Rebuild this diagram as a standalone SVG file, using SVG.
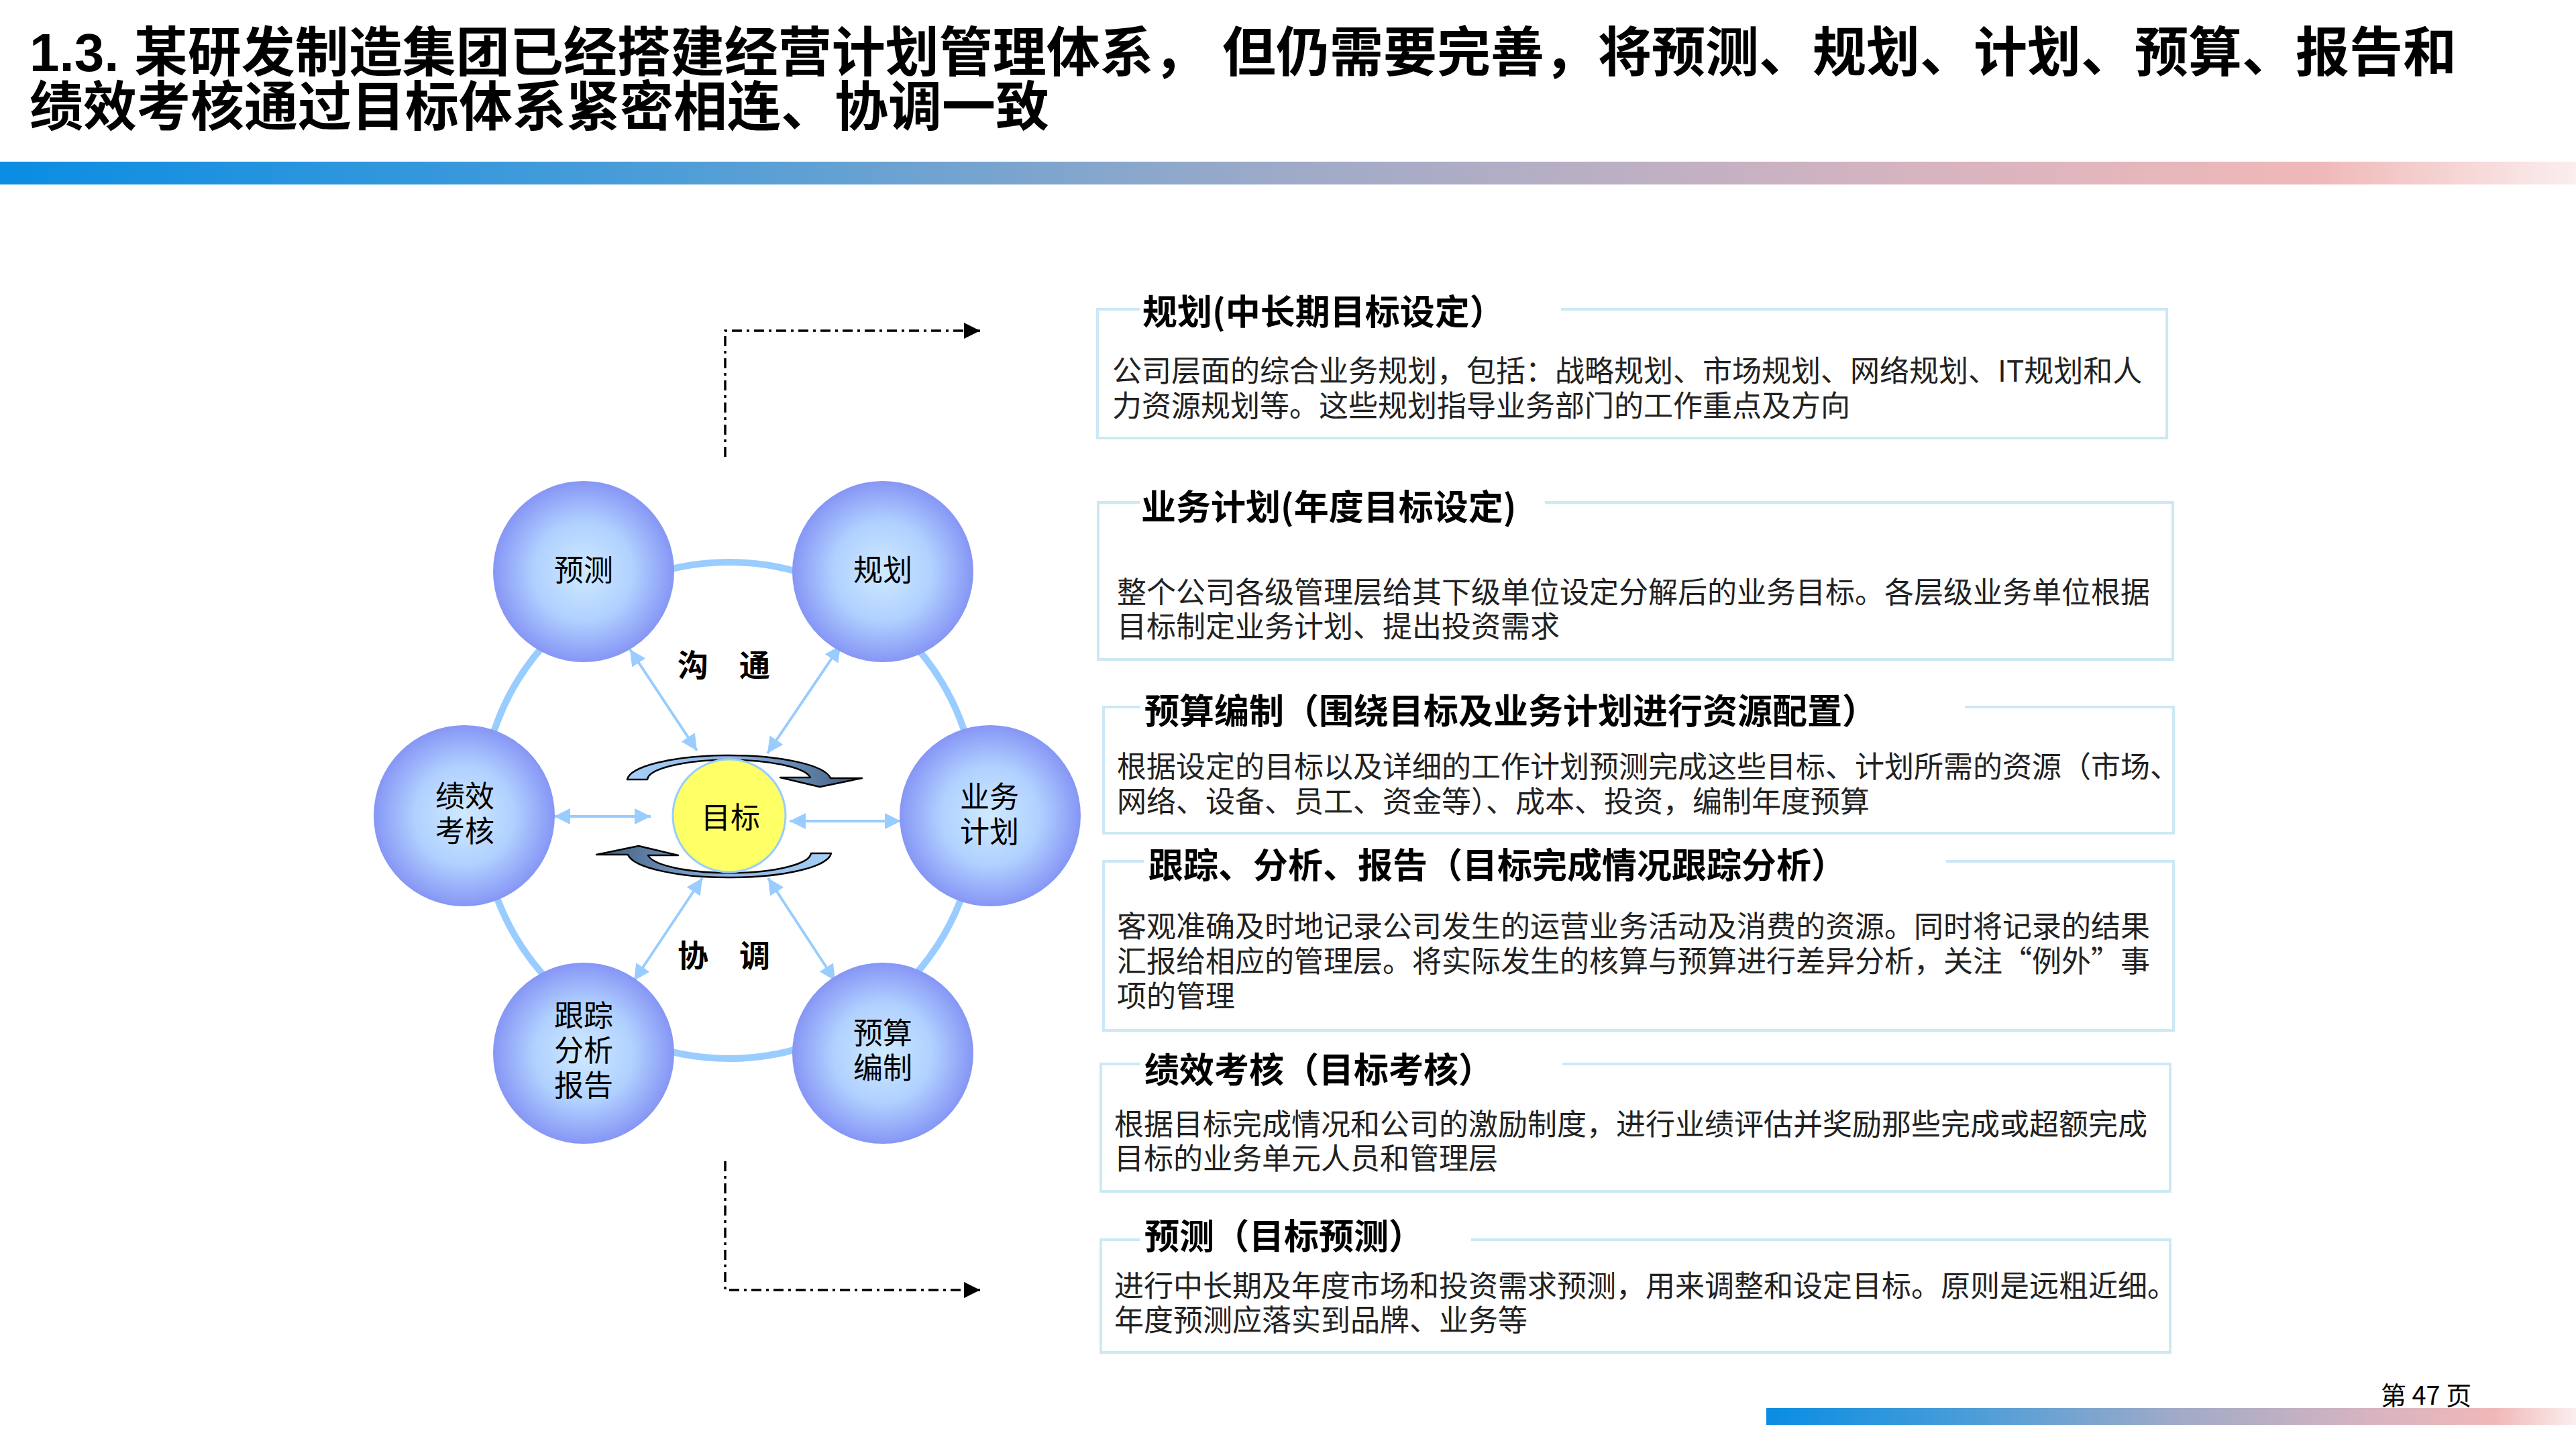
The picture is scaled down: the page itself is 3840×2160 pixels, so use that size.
<svg xmlns="http://www.w3.org/2000/svg" width="3840" height="2160" viewBox="0 0 3840 2160">
<defs>
<style>
.t{font-family:"Liberation Sans","Noto Sans CJK SC",sans-serif;font-weight:bold;font-size:80px;fill:#000}
.nl{font-family:"Noto Sans CJK SC",sans-serif;font-size:44px;fill:#000;text-anchor:middle}
.cl{font-family:"Noto Sans CJK SC",sans-serif;font-size:46px;font-weight:bold;fill:#000}
.bt{font-family:"Noto Sans CJK SC",sans-serif;font-size:52px;font-weight:bold;fill:#000}
.bd{font-family:"Noto Sans CJK SC",sans-serif;font-size:44px;fill:#222}
.box{fill:none;stroke:#cde8f5;stroke-width:4}
.ring{fill:none;stroke:#99ccff;stroke-width:10}
.ba{fill:none;stroke:#99ccff;stroke-width:4;marker-start:url(#ab);marker-end:url(#ab)}
.dd{fill:none;stroke:#000;stroke-width:3.5;stroke-dasharray:15 7 4 7;marker-end:url(#ak)}
.cv{fill:url(#cvg);stroke:#000;stroke-width:2.5;stroke-linejoin:round}
.bub{fill:url(#bub)}
</style>
<linearGradient id="bar" x1="0" y1="0" x2="1" y2="0">
<stop offset="0" stop-color="#0a8de3"/>
<stop offset="0.25" stop-color="#4a9dd8"/>
<stop offset="0.5" stop-color="#9eaac8"/>
<stop offset="0.75" stop-color="#d8b4c0"/>
<stop offset="0.9" stop-color="#f0b8b8"/>
<stop offset="1" stop-color="#fbeeee"/>
</linearGradient>
<radialGradient id="bub" cx="0.5" cy="0.5" r="0.5">
<stop offset="0" stop-color="#cfeaff"/>
<stop offset="0.55" stop-color="#b0d0ff"/>
<stop offset="1" stop-color="#8696f5"/>
</radialGradient>
<linearGradient id="cvg" x1="0" y1="0" x2="1" y2="0">
<stop offset="0" stop-color="#a6d0f7"/>
<stop offset="0.45" stop-color="#8fb4e0"/>
<stop offset="1" stop-color="#3d5a7c"/>
</linearGradient>
<marker id="ab" viewBox="0 0 24 24" refX="24" refY="12" markerWidth="24" markerHeight="24" markerUnits="userSpaceOnUse" orient="auto-start-reverse">
<path d="M0,0 L24,12 L0,24 z" fill="#99ccff"/>
</marker>
<marker id="ak" viewBox="0 0 24 24" refX="24" refY="12" markerWidth="24" markerHeight="24" markerUnits="userSpaceOnUse" orient="auto">
<path d="M0,0 L24,12 L0,24 z" fill="#000"/>
</marker>
</defs>
<rect width="3840" height="2160" fill="#fff"/>

<g id="header">
<text class="t" x="44" y="106">1.3. 某研发制造集团已经搭建经营计划管理体系， 但仍需要完善，将预测、规划、计划、预算、报告和<tspan x="44" y="187">绩效考核通过目标体系紧密相连、协调一致</tspan></text>
<rect x="0" y="241" width="3840" height="34" fill="url(#bar)"/>
</g>

<g id="footer">
<rect x="2633" y="2099" width="1207" height="25" fill="url(#bar)"/>
<text x="3549" y="2094" font-family="Noto Sans CJK SC, sans-serif" font-size="38" fill="#000">第 47 页</text>
</g>

<circle class="ring" cx="1087" cy="1208" r="370"/>

<g id="connectors">
<path class="dd" d="M1081,681 L1081,493 L1461,493"/>
<path class="dd" d="M1081,1731 L1081,1923 L1461,1923"/>
<line class="ba" x1="939" y1="968" x2="1039" y2="1119"/>
<line class="ba" x1="1253" y1="962" x2="1144" y2="1123"/>
<line class="ba" x1="826" y1="1217" x2="970" y2="1217"/>
<line class="ba" x1="1177" y1="1224" x2="1343" y2="1224"/>
<line class="ba" x1="1047" y1="1309" x2="945" y2="1462"/>
<line class="ba" x1="1145" y1="1309" x2="1245" y2="1462"/>
</g>

<g id="node-forecast"><circle class="bub" cx="870" cy="852" r="135"/><text class="nl" x="870" y="866">预测</text></g>
<g id="node-planning"><circle class="bub" cx="1316" cy="852" r="135"/><text class="nl" x="1316" y="866">规划</text></g>
<g id="node-performance"><circle class="bub" cx="692" cy="1216" r="135"/><text class="nl" x="693" y="1203">绩效<tspan x="693" y="1255">考核</tspan></text></g>
<g id="node-business"><circle class="bub" cx="1476" cy="1216" r="135"/><text class="nl" x="1475" y="1204">业务<tspan x="1475" y="1256">计划</tspan></text></g>
<g id="node-tracking"><circle class="bub" cx="870" cy="1570" r="135"/><text class="nl" x="870" y="1530">跟踪<tspan x="870" y="1582">分析</tspan><tspan x="870" y="1634">报告</tspan></text></g>
<g id="node-budget"><circle class="bub" cx="1316" cy="1570" r="135"/><text class="nl" x="1316" y="1556">预算<tspan x="1316" y="1608">编制</tspan></text></g>

<g id="cycle-arrows">
<path class="cv" d="M935,1162 A152,38 0 0 1 1238,1160 L1285,1160 L1222,1173 L1163,1159 L1208,1159 A122,30 0 0 0 965,1162 Z"/>
<path class="cv" transform="rotate(180 1087 1217)" d="M935,1162 A152,38 0 0 1 1238,1160 L1285,1160 L1222,1173 L1163,1159 L1208,1159 A122,30 0 0 0 965,1162 Z"/>
</g>

<g id="node-goal"><circle cx="1087" cy="1216" r="84" fill="#ffff66" stroke="#99ccff" stroke-width="3"/><text class="nl" x="1089" y="1235">目标</text></g>

<g id="label-communicate"><text class="cl" x="1010" y="1008">沟　通</text></g>
<g id="label-coordinate"><text class="cl" x="1010" y="1441">协　调</text></g>

<g id="box-planning">
<path class="box" d="M1699,461 L1636,461 L1636,653 L3230,653 L3230,461 L2327,461"/>
<text class="bt" x="1703" y="484">规划(中长期目标设定）</text>
<text class="bd" x="1658" y="569">公司层面的综合业务规划，包括：战略规划、市场规划、网络规划、IT规划和人<tspan x="1658" y="621">力资源规划等。这些规划指导业务部门的工作重点及方向</tspan></text>
</g>
<g id="box-business">
<path class="box" d="M1699,749 L1637,749 L1637,983 L3239,983 L3239,749 L2303,749"/>
<text class="bt" x="1701" y="775">业务计划(年度目标设定)</text>
<text class="bd" x="1665" y="899">整个公司各级管理层给其下级单位设定分解后的业务目标。各层级业务单位根据<tspan x="1665" y="950">目标制定业务计划、提出投资需求</tspan></text>
</g>
<g id="box-budget">
<path class="box" d="M1700,1054 L1645,1054 L1645,1242 L3240,1242 L3240,1054 L2929,1054"/>
<text class="bt" x="1706" y="1079">预算编制（围绕目标及业务计划进行资源配置）</text>
<text class="bd" x="1665" y="1159">根据设定的目标以及详细的工作计划预测完成这些目标、计划所需的资源（市场、<tspan x="1665" y="1211">网络、设备、员工、资金等）、成本、投资，编制年度预算</tspan></text>
</g>
<g id="box-tracking">
<path class="box" d="M1705,1284 L1645,1284 L1645,1536 L3240,1536 L3240,1284 L2901,1284"/>
<text class="bt" x="1712" y="1309">跟踪、分析、报告（目标完成情况跟踪分析）</text>
<text class="bd" x="1665" y="1397">客观准确及时地记录公司发生的运营业务活动及消费的资源。同时将记录的结果<tspan x="1665" y="1449">汇报给相应的管理层。将实际发生的核算与预算进行差异分析，关注“例外”事</tspan><tspan x="1665" y="1501">项的管理</tspan></text>
</g>
<g id="box-performance">
<path class="box" d="M1700,1586 L1641,1586 L1641,1776 L3235,1776 L3235,1586 L2329,1586"/>
<text class="bt" x="1706" y="1614">绩效考核（目标考核）</text>
<text class="bd" x="1661" y="1692">根据目标完成情况和公司的激励制度，进行业绩评估并奖励那些完成或超额完成<tspan x="1661" y="1743">目标的业务单元人员和管理层</tspan></text>
</g>
<g id="box-forecast">
<path class="box" d="M1700,1848 L1641,1848 L1641,2016 L3235,2016 L3235,1848 L2193,1848"/>
<text class="bt" x="1706" y="1862">预测（目标预测）</text>
<text class="bd" x="1661" y="1933">进行中长期及年度市场和投资需求预测，用来调整和设定目标。原则是远粗近细。<tspan x="1661" y="1984">年度预测应落实到品牌、业务等</tspan></text>
</g>
</svg>
